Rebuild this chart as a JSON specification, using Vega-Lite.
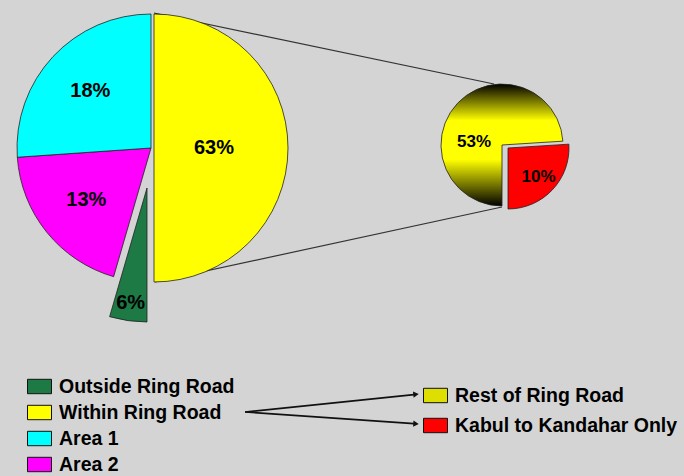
{
  "$schema": "https://vega.github.io/schema/vega-lite/v6.json",
  "width": 684,
  "height": 476,
  "autosize": {"type": "none"},
  "padding": 0,
  "background": "#d4d4d4",
  "config": {
    "view": {"stroke": null},
    "legend": {
      "orient": "none",
      "title": null,
      "padding": 0,
      "symbolType": "M-1,-0.6H1V0.6H-1Z",
      "symbolSize": 576,
      "symbolStrokeColor": "#111111",
      "symbolStrokeWidth": 1,
      "symbolOpacity": 1,
      "labelFont": "Liberation Sans",
      "labelFontSize": 19.5,
      "labelFontWeight": "bold",
      "labelColor": "#000000",
      "labelOffset": 7,
      "labelLimit": 400
    }
  },
  "datasets": {
    "main": [
      {"area": "Within Ring Road", "share": 50, "label": "63%"},
      {"area": "Outside Ring Road", "share": 4.5, "label": "6%"},
      {"area": "Area 2", "share": 19.4, "label": "13%"},
      {"area": "Area 1", "share": 26.1, "label": "18%"}
    ],
    "sub": [
      {"part": "Rest of Ring Road", "share": 74, "label": "53%"},
      {"part": "Kabul to Kandahar Only", "share": 26, "label": "10%"}
    ]
  },
  "layer": [
    {
      "data": {"values": [{}]},
      "layer": [
        {"mark": {"type": "rule", "color": "#333333", "strokeWidth": 1.2}, "encoding": {"x": {"value": 154}, "y": {"value": 13}, "x2": {"value": 494}, "y2": {"value": 84}}},
        {"mark": {"type": "rule", "color": "#333333", "strokeWidth": 1.2}, "encoding": {"x": {"value": 155}, "y": {"value": 282}, "x2": {"value": 502}, "y2": {"value": 207}}},
        {"mark": {"type": "rule", "color": "#111111", "strokeWidth": 1.6}, "encoding": {"x": {"value": 245}, "y": {"value": 412}, "x2": {"value": 414}, "y2": {"value": 394.6}}},
        {"mark": {"type": "rule", "color": "#111111", "strokeWidth": 1.6}, "encoding": {"x": {"value": 245}, "y": {"value": 412}, "x2": {"value": 414}, "y2": {"value": 423.6}}},
        {"mark": {"type": "point", "shape": "triangle-right", "x": 416, "y": 394.4, "angle": 354, "size": 40, "filled": true, "color": "#111111", "opacity": 1}, "encoding": {}},
        {"mark": {"type": "point", "shape": "triangle-right", "x": 416, "y": 423.8, "angle": 4, "size": 40, "filled": true, "color": "#111111", "opacity": 1}, "encoding": {}}
      ]
    },
    {
      "data": {"name": "main"},
      "transform": [{"stack": "share", "groupby": [], "as": ["s0", "s1"]}],
      "layer": [
        {
          "transform": [{"filter": "datum.area === 'Area 1' || datum.area === 'Area 2'"}],
          "mark": {"type": "arc", "x": 151, "y": 148, "radius": 134, "stroke": "#222222", "strokeWidth": 0.8},
          "encoding": {
            "theta": {"field": "s0", "type": "quantitative", "scale": {"domain": [0, 100]}},
            "theta2": {"field": "s1"},
            "color": {
              "field": "area", "type": "nominal",
              "scale": {"domain": ["Outside Ring Road", "Within Ring Road", "Area 1", "Area 2"], "range": ["#1d7a45", "#ffff00", "#00ffff", "#ff00ff"]},
              "legend": {"legendX": 27, "legendY": 374, "rowPadding": 4}
            }
          }
        },
        {
          "transform": [{"filter": "datum.area === 'Within Ring Road'"}],
          "mark": {"type": "arc", "x": 154, "y": 148, "radius": 134, "stroke": "#222222", "strokeWidth": 0.8},
          "encoding": {
            "theta": {"field": "s0", "type": "quantitative", "scale": {"domain": [0, 100]}},
            "theta2": {"field": "s1"},
            "color": {"field": "area", "type": "nominal"}
          }
        },
        {
          "transform": [{"filter": "datum.area === 'Outside Ring Road'"}],
          "mark": {"type": "arc", "x": 147, "y": 188, "radius": 134, "stroke": "#222222", "strokeWidth": 0.8},
          "encoding": {
            "theta": {"field": "s0", "type": "quantitative", "scale": {"domain": [0, 100]}},
            "theta2": {"field": "s1"},
            "color": {"field": "area", "type": "nominal"}
          }
        },
        {
          "mark": {"type": "text", "x": 151, "y": 148, "radius": 83, "font": "Liberation Sans", "fontSize": 20, "fontWeight": "bold", "color": "#000000", "align": "center", "baseline": "middle"},
          "encoding": {
            "theta": {"field": "share", "type": "quantitative", "stack": true, "scale": {"domain": [0, 100]}},
            "order": {"field": "s0", "type": "quantitative"},
            "detail": {"field": "area", "type": "nominal"},
            "text": {"condition": {"test": "datum.area === 'Area 1' || datum.area === 'Area 2'", "field": "label", "type": "nominal"}, "value": ""}
          }
        },
        {
          "mark": {"type": "text", "x": 154, "y": 148, "radius": 60, "font": "Liberation Sans", "fontSize": 20, "fontWeight": "bold", "color": "#000000", "align": "center", "baseline": "middle"},
          "encoding": {
            "theta": {"field": "share", "type": "quantitative", "stack": true, "scale": {"domain": [0, 100]}},
            "order": {"field": "s0", "type": "quantitative"},
            "detail": {"field": "area", "type": "nominal"},
            "text": {"condition": {"test": "datum.area === 'Within Ring Road'", "field": "label", "type": "nominal"}, "value": ""}
          }
        },
        {
          "mark": {"type": "text", "x": 147, "y": 188, "radius": 116, "font": "Liberation Sans", "fontSize": 20, "fontWeight": "bold", "color": "#000000", "align": "center", "baseline": "middle"},
          "encoding": {
            "theta": {"field": "share", "type": "quantitative", "stack": true, "scale": {"domain": [0, 100]}},
            "order": {"field": "s0", "type": "quantitative"},
            "detail": {"field": "area", "type": "nominal"},
            "text": {"condition": {"test": "datum.area === 'Outside Ring Road'", "field": "label", "type": "nominal"}, "value": ""}
          }
        }
      ]
    },
    {
      "data": {"name": "sub"},
      "transform": [{"stack": "share", "groupby": [], "as": ["s0", "s1"]}],
      "layer": [
        {
          "transform": [{"filter": "datum.part === 'Rest of Ring Road'"}],
          "mark": {
            "type": "arc", "x": 502, "y": 145, "radius": 61, "stroke": "#222222", "strokeWidth": 0.8,
            "fill": {"gradient": "linear", "x1": 0, "y1": 0, "x2": 0, "y2": 1, "stops": [
              {"offset": 0, "color": "#000000"},
              {"offset": 0.3, "color": "#ffff00"},
              {"offset": 0.62, "color": "#ffff00"},
              {"offset": 1, "color": "#000000"}
            ]}
          },
          "encoding": {
            "theta": {"field": "s0", "type": "quantitative", "scale": {"domain": [0, 100], "range": [3.14159, 9.42478]}},
            "theta2": {"field": "s1"}
          }
        },
        {
          "transform": [{"filter": "datum.part === 'Kabul to Kandahar Only'"}],
          "mark": {"type": "arc", "x": 508, "y": 148, "radius": 61, "stroke": "#222222", "strokeWidth": 0.8},
          "encoding": {
            "theta": {"field": "s0", "type": "quantitative", "scale": {"domain": [0, 100], "range": [3.14159, 9.42478]}},
            "theta2": {"field": "s1"},
            "color": {
              "field": "part", "type": "nominal",
              "scale": {"domain": ["Rest of Ring Road", "Kabul to Kandahar Only"], "range": ["#dede00", "#ff0000"]},
              "legend": {"legendX": 423, "legendY": 383, "rowPadding": 8}
            }
          }
        },
        {
          "mark": {"type": "text", "x": 502, "y": 145, "radius": 28, "thetaOffset": -0.66, "font": "Liberation Sans", "fontSize": 17, "fontWeight": "bold", "color": "#000000", "align": "center", "baseline": "middle"},
          "encoding": {
            "theta": {"field": "share", "type": "quantitative", "stack": true, "scale": {"domain": [0, 100], "range": [3.14159, 9.42478]}},
            "order": {"field": "s0", "type": "quantitative"},
            "detail": {"field": "part", "type": "nominal"},
            "text": {"condition": {"test": "datum.part === 'Rest of Ring Road'", "field": "label", "type": "nominal"}, "value": ""}
          }
        },
        {
          "mark": {"type": "text", "x": 508, "y": 148, "radius": 42, "font": "Liberation Sans", "fontSize": 17, "fontWeight": "bold", "color": "#000000", "align": "center", "baseline": "middle"},
          "encoding": {
            "theta": {"field": "share", "type": "quantitative", "stack": true, "scale": {"domain": [0, 100], "range": [3.14159, 9.42478]}},
            "order": {"field": "s0", "type": "quantitative"},
            "detail": {"field": "part", "type": "nominal"},
            "text": {"condition": {"test": "datum.part === 'Kabul to Kandahar Only'", "field": "label", "type": "nominal"}, "value": ""}
          }
        }
      ]
    }
  ],
  "resolve": {"scale": {"color": "independent", "theta": "independent"}}
}
